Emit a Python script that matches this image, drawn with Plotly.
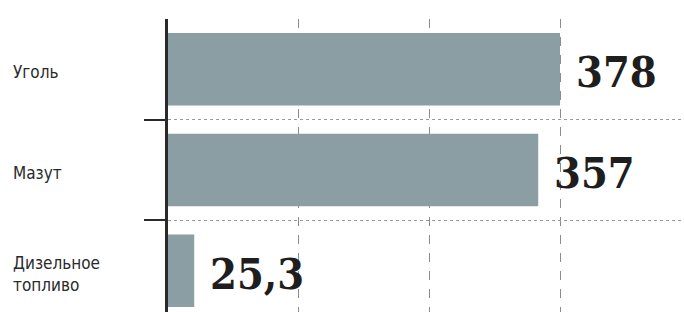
import plotly.graph_objects as go

categories = ["Уголь", "Мазут", "Дизельное<br>топливо"]
values = [378, 357, 25.3]
grid_ticks = [126, 252, 378]

BAR = "#8a9ea4"
W, H = 684, 312
L, T = 168, 19
band_px = 100.7
plot_h = H - T
ypos = list(range(len(categories)))

fig = go.Figure(go.Bar(
    x=values, y=ypos, orientation="h", width=0.72,
    marker=dict(color=BAR, line=dict(width=0)),
    hoverinfo="skip",
))

for i, (c, v) in enumerate(zip(categories, values)):
    fig.add_annotation(
        x=0, xref="paper", y=i, yref="y", text=c, showarrow=False,
        xanchor="left", yanchor="middle", xshift=-157, yshift=-3,
        align="left",
        font=dict(family="DejaVu Sans Condensed, sans-serif",
                  size=17, color="#2a2a2a"),
    )
    fig.add_annotation(
        x=v, xref="x", y=i, yref="y", text=f"{v:g}".replace(".", ","),
        showarrow=False, xanchor="left", yanchor="middle", xshift=14, yshift=-3,
        font=dict(family="DejaVu Serif Condensed, DejaVu Serif, serif", size=43,
                  color="#1e1e1e", weight="bold"),
    )

x_max = (W - L) / (392 / 378)
fig.update_layout(
    width=W, height=H,
    margin=dict(l=L, r=0, t=T, b=0),
    paper_bgcolor="white", plot_bgcolor="white",
    showlegend=False,
    xaxis=dict(range=[0, x_max], tickvals=grid_ticks, showticklabels=False,
               ticks="", showgrid=True, gridcolor="#8c8c8c", gridwidth=1,
               griddash="dash", zeroline=False, showline=False, fixedrange=True),
    yaxis=dict(range=[-0.5 + plot_h / band_px, -0.5], tickvals=[0.5, 1.5],
               ticktext=["", ""], ticks="outside", ticklen=21, tickwidth=1.5,
               tickcolor="#2a2a2a", showgrid=True, gridcolor="#9a9a9a",
               gridwidth=1, griddash="dot", showline=True, linecolor="#2a2a2a",
               linewidth=3, zeroline=False, fixedrange=True),
)

fig.write_html("out.html", config={"displayModeBar": False},
               post_script="document.body.style.margin='0px';")
